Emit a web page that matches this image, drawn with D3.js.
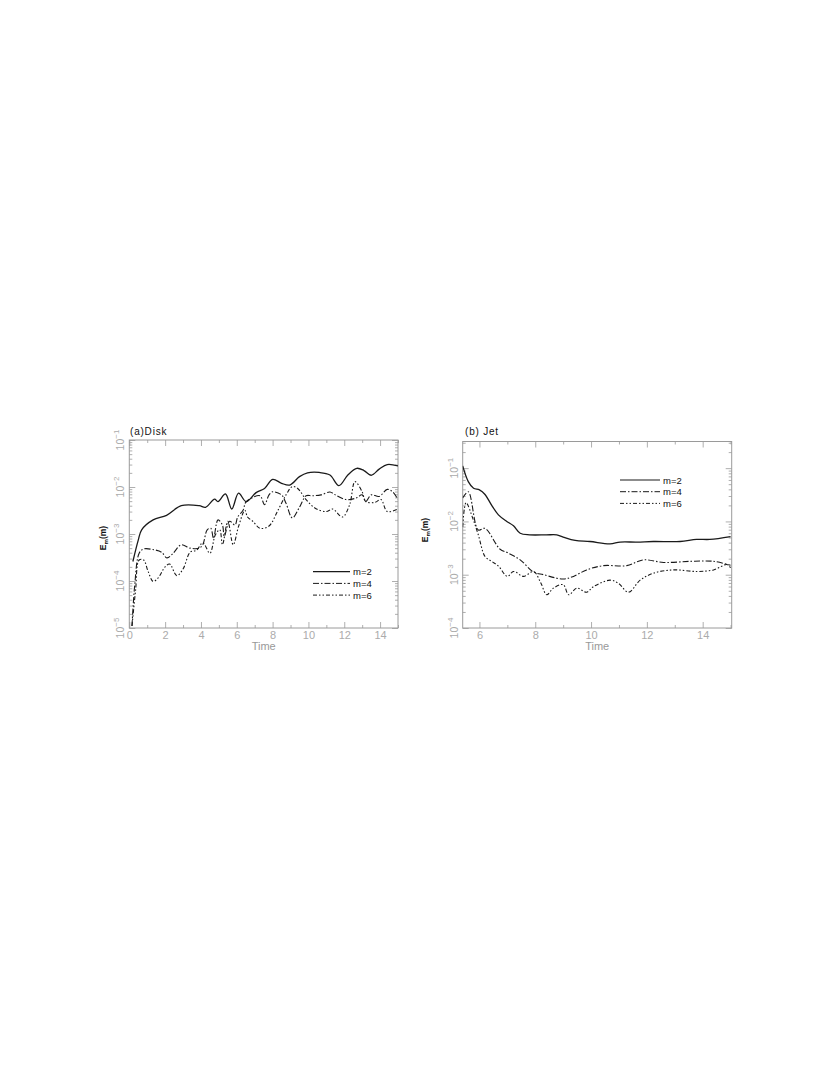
<!DOCTYPE html>
<html><head><meta charset="utf-8">
<script src="https://cdn.jsdelivr.net/npm/d3@7"></script>
<style>body{margin:0;background:#fff}svg{display:block}</style>
</head><body><svg id="c" width="830" height="1075"></svg>
<script>
// ---------- Panel (a) Disk ----------
const diskTimeM2 = [0.2,0.5,0.69,1.33,2.08,2.9,3.9,4.26,4.76,4.95,5.37,5.72,6.1,6.52,7.08,7.55,8.0,8.5,8.95,9.5,9.95,10.6,11.2,11.7,12.2,12.7,13.1,13.5,13.95,14.4,15.0];
const diskM2 = [2.6e-4,7.4e-4,1.23e-3,2.0e-3,2.5e-3,4.0e-3,4.0e-3,3.7e-3,5.5e-3,4.9e-3,7.1e-3,3.4e-3,7.4e-3,4.9e-3,7.6e-3,9.3e-3,1.45e-2,1.2e-2,1.1e-2,1.66e-2,2.0e-2,2.04e-2,1.8e-2,1.07e-2,1.8e-2,2.5e-2,2.24e-2,1.78e-2,2.4e-2,3.0e-2,2.8e-2];
const diskTimeM4 = [0.15,0.3,0.55,0.8,1.4,1.8,2.1,2.45,2.9,3.4,3.9,4.1,4.35,4.55,4.7,4.95,5.2,5.3,5.6,5.9,6.05,6.35,6.5,6.9,7.3,7.55,7.8,8.0,8.5,8.75,9.1,9.5,9.87,10.2,10.7,11.2,11.5,12.1,12.65,13.0,13.2,13.5,13.95,14.4,14.7,15.0];
const diskM4 = [1.1e-5,7.9e-5,3.9e-4,4.8e-4,4.6e-4,4.1e-4,3.1e-4,3.9e-4,5.9e-4,5.0e-4,5.0e-4,5.9e-4,1.23e-3,1.32e-3,8.1e-4,2.0e-3,1.55e-3,8.9e-4,1.86e-3,1.55e-3,2.3e-3,3.2e-3,4.7e-3,6.0e-3,6.5e-3,4.2e-3,6.8e-3,7.9e-3,6.8e-3,4.5e-3,2.2e-3,3.7e-3,6.5e-3,6.5e-3,6.8e-3,7.8e-3,6.8e-3,5.4e-3,5.8e-3,6.8e-3,4.9e-3,6.8e-3,6.3e-3,8.9e-3,7.9e-3,5.4e-3];
const diskTimeM6 = [0.15,0.35,0.55,0.8,1.05,1.33,1.6,2.0,2.25,2.65,3.0,3.4,3.75,4.1,4.5,4.8,5.05,5.2,5.5,5.8,6.1,6.45,6.6,6.9,7.3,7.8,8.3,8.75,9.1,9.4,9.87,10.4,11.0,11.35,11.9,12.3,12.6,13.0,13.2,13.7,14.05,14.4,15.0];
const diskM6 = [1.1e-5,6.3e-5,2.8e-4,2.8e-4,1.6e-4,9.8e-5,1.15e-4,2.0e-4,2.3e-4,1.3e-4,1.8e-4,4.1e-4,4.5e-4,6.5e-4,3.9e-4,9.5e-4,1.23e-3,5.9e-4,1.86e-3,5.9e-4,1.45e-3,3.2e-3,2.3e-3,1.86e-3,1.32e-3,1.48e-3,3.2e-3,6.8e-3,1.02e-2,9.3e-3,5.4e-3,3.5e-3,3.0e-3,3.4e-3,2.3e-3,4.2e-3,1.3e-2,7.9e-3,4.9e-3,4.7e-3,5.4e-3,3.0e-3,3.4e-3];
const diskXLabels = [0,2,4,6,8,10,12,14];
const diskXTicks = d3.range(0,16,1);

// ---------- Panel (b) Jet ----------
const jetTimeM2 = [5.4,5.6,5.79,6.0,6.2,6.44,6.68,6.98,7.22,7.46,7.8,8.4,8.77,9.0,9.43,9.96,10.68,11.04,11.64,12.23,13.19,13.78,14.26,15.0];
const jetM2 = [0.11,0.056,0.042,0.039,0.032,0.020,0.0133,0.010,0.0083,0.006,0.0056,0.0056,0.0056,0.0051,0.0044,0.0042,0.0038,0.0041,0.0041,0.0042,0.0042,0.0046,0.0046,0.0052];
const jetTimeM4 = [5.4,5.6,5.96,6.2,6.74,7.0,7.46,7.94,8.3,9.0,9.37,9.84,10.44,11.28,11.88,12.6,13.55,14.4,15.0];
const jetM4 = [0.0275,0.036,0.0069,0.0074,0.003,0.0026,0.0019,0.00112,0.001,0.00083,0.00093,0.00123,0.00148,0.00148,0.0019,0.0017,0.00178,0.00178,0.0015];
const jetTimeM6 = [5.4,5.52,5.78,5.96,6.2,6.44,6.68,7.0,7.22,7.58,7.94,8.2,8.41,8.65,9.0,9.2,9.49,9.84,10.09,10.68,10.98,11.34,11.76,12.24,12.95,13.79,14.39,14.87,15.0];
const jetM6 = [0.0079,0.0224,0.0107,0.0056,0.0022,0.00178,0.00145,0.00093,0.00115,0.00093,0.00115,0.0007,0.00042,0.00056,0.00065,0.00042,0.00056,0.00047,0.0006,0.00079,0.00069,0.00047,0.00079,0.00107,0.00123,0.00115,0.00123,0.00155,0.00135];
const jetXLabels = [6,8,10,12,14];
const jetXTicks = d3.range(6,16,1);

const seriesNames = ["m=2","m=4","m=6"];
const dashes = [null, "6,2,1.5,2", "4,2,1.5,2,1.5,2"];

const svg = d3.select("#c");
const GRAY = "#9a9a9a", LABEL = "#ababab";

function panel(o){
  const x = d3.scaleLinear().domain(o.xDomain).range([o.left,o.right]);
  const y = d3.scaleLog().domain(o.yDomain).range([o.bottom,o.top]);
  const g = svg.append("g");
  const clipId = "clip"+o.id;
  g.append("clipPath").attr("id",clipId).append("rect")
    .attr("x",o.left).attr("y",o.top).attr("width",o.right-o.left).attr("height",o.bottom-o.top);

  const lo = Math.floor(Math.log10(o.yDomain[0])), hi = Math.ceil(Math.log10(o.yDomain[1]));
  const yMajor = d3.range(lo,hi+1).map(e=>Math.pow(10,e)).filter(v=>v>=o.yDomain[0]*0.999&&v<=o.yDomain[1]*1.001);
  const yMinor = [];
  d3.range(lo,hi).forEach(e=>{for(let k=2;k<=9;k++){const v=k*Math.pow(10,e); if(v>o.yDomain[0]&&v<o.yDomain[1]) yMinor.push(v);}});
  const xMinor = o.xTicks.filter(v=>!o.xLabels.includes(v));

  const ax = (axis, tr) => g.append("g").attr("transform",tr).call(axis)
     .call(s=>s.select(".domain").remove())
     .call(s=>s.selectAll("line").attr("stroke",GRAY).attr("stroke-width",0.8));

  ax(d3.axisBottom(x).tickValues(o.xLabels).tickSize(-6).tickPadding(3).tickFormat(d3.format("d")), `translate(0,${o.bottom})`)
    .call(s=>s.selectAll("text").attr("fill",LABEL).attr("font-size",11).attr("font-family","Liberation Sans, Arial, sans-serif"));
  ax(d3.axisBottom(x).tickValues(xMinor).tickSize(-3).tickFormat(""), `translate(0,${o.bottom})`);
  ax(d3.axisTop(x).tickValues(o.xLabels).tickSize(-6).tickFormat(""), `translate(0,${o.top})`);
  ax(d3.axisTop(x).tickValues(xMinor).tickSize(-3).tickFormat(""), `translate(0,${o.top})`);
  ax(d3.axisLeft(y).tickValues(yMajor).tickSize(-6).tickFormat(""), `translate(${o.left},0)`);
  ax(d3.axisLeft(y).tickValues(yMinor).tickSize(-3).tickFormat(""), `translate(${o.left},0)`);
  ax(d3.axisRight(y).tickValues(yMajor).tickSize(-6).tickFormat(""), `translate(${o.right},0)`);
  ax(d3.axisRight(y).tickValues(yMinor).tickSize(-3).tickFormat(""), `translate(${o.right},0)`);

  yMajor.forEach(v=>{
    const t = g.append("text").attr("transform",`translate(${o.left-5},${y(v)}) rotate(-90)`)
      .attr("text-anchor","middle").attr("fill",LABEL).attr("font-size",10.5)
      .attr("font-family","Liberation Sans, Arial, sans-serif");
    t.append("tspan").text("10");
    t.append("tspan").attr("dy",-5).attr("font-size",8).text("\u2212"+(-Math.round(Math.log10(v))));
  });

  g.append("rect").attr("x",o.left).attr("y",o.top).attr("width",o.right-o.left).attr("height",o.bottom-o.top)
    .attr("fill","none").attr("stroke",GRAY).attr("stroke-width",1);

  const line = d3.line().x(d=>x(d[0])).y(d=>y(d[1])).curve(d3.curveCatmullRom.alpha(0.5));
  o.series.forEach((s,i)=>{
    g.append("path").attr("clip-path",`url(#${clipId})`)
      .datum(s.t.map((t,j)=>[t,s.v[j]]))
      .attr("d",line).attr("fill","none").attr("stroke","#1a1a1a")
      .attr("stroke-width", i===0?1.3:1.1)
      .attr("stroke-dasharray",dashes[i]);
  });

  seriesNames.forEach((n,i)=>{
    const ly = o.legY + i*11.7;
    g.append("line").attr("x1",o.legX).attr("x2",o.legX+o.legW).attr("y1",ly).attr("y2",ly)
      .attr("stroke","#1a1a1a").attr("stroke-width",i===0?1.2:1.0).attr("stroke-dasharray",dashes[i]);
    g.append("text").attr("x",o.legX+o.legW+3).attr("y",ly+3.5).attr("font-size",9.5)
      .attr("font-family","Liberation Sans Narrow, Liberation Sans, Arial, sans-serif")
      .attr("fill","#111").text(n);
  });

  g.append("text").attr("x",o.titleX).attr("y",435).attr("font-size",10)
    .attr("font-family","Liberation Sans Narrow, Liberation Sans, Arial, sans-serif").attr("letter-spacing",0.8)
    .attr("fill","#111").text(o.title);

  g.append("text").attr("x",(o.left+o.right)/2).attr("y",650).attr("text-anchor","middle")
    .attr("font-size",11).attr("fill","#999").attr("font-family","Liberation Sans, Arial, sans-serif").text("Time");

  const yl = g.append("text").attr("transform",`translate(${o.yLabX},${o.yLabY}) rotate(-90)`)
    .attr("text-anchor","middle").attr("font-size",8.5).attr("font-weight","bold")
    .attr("font-family","Liberation Sans Narrow, Liberation Sans, Arial, sans-serif").attr("fill","#111");
  yl.append("tspan").text("E");
  yl.append("tspan").attr("dy",2).attr("font-size",6).text("m");
  yl.append("tspan").attr("dy",-2).text("(m)");
}

panel({id:"a", left:129.3, right:398, top:440, bottom:628,
  xDomain:[0,15], yDomain:[1e-5,1e-1], xLabels:diskXLabels, xTicks:diskXTicks,
  title:"(a)Disk", titleX:130, legX:313, legY:571.7, legW:37, yLabX:106, yLabY:538,
  series:[{t:diskTimeM2,v:diskM2},{t:diskTimeM4,v:diskM4},{t:diskTimeM6,v:diskM6}]});

panel({id:"b", left:462.7, right:731.7, top:441.5, bottom:628,
  xDomain:[5.4,15.04], yDomain:[1e-4,Math.pow(10,-0.5)], xLabels:jetXLabels, xTicks:jetXTicks,
  title:"(b) Jet", titleX:465, legX:620, legY:480, legW:40, yLabX:428, yLabY:530,
  series:[{t:jetTimeM2,v:jetM2},{t:jetTimeM4,v:jetM4},{t:jetTimeM6,v:jetM6}]});
</script></body></html>
